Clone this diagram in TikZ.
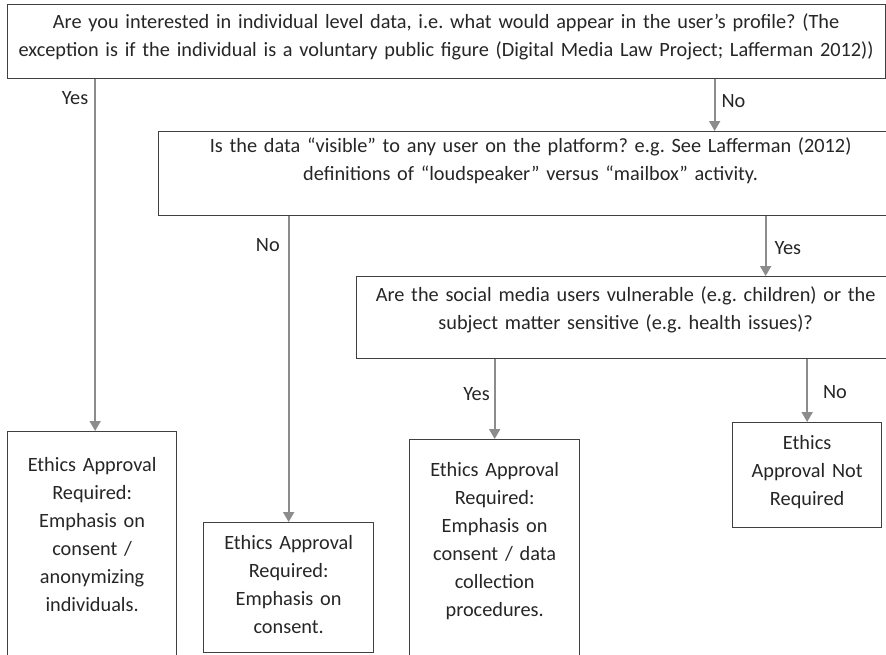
\documentclass[tikz,border=0pt]{standalone}
\usepackage{fontspec}
\setmainfont{Carlito}
\usetikzlibrary{arrows.meta, positioning}
\frenchspacing

\begin{document}
\begin{tikzpicture}[
    x=1pt, y=-1pt,
    font=\fontsize{20.3}{28}\selectfont,
    %% ── Box styles ──────────────────────────────────────────────────────
    qbox/.style={
        draw=black!75, line width=1.3pt,
        rectangle, anchor=north west,
        inner sep=0pt,
        align=center,
        text=black!85,
    },
    %% ── Arrow styles ────────────────────────────────────────────────────
    flow/.style={
        -{Triangle[length=10pt, width=11pt]},
        draw=black!45, line width=1.8pt,
    },
    lbl/.style={inner sep=0pt, text=black!85},
]

\useasboundingbox (0,0) rectangle (886,654);
\clip (0,0) rectangle (886,654);

%%─────────────────────────────────────────────────────────────────────────
%% Questions
%%─────────────────────────────────────────────────────────────────────────
\node[qbox, text width=878pt, text height=24pt, text depth=50pt] (Individual) at (6.5,4) {
    Are you interested in individual level data, i.e. what would appear in the user’s profile? (The\\
    exception is if the individual is a voluntary public figure (Digital Media Law Project; Lafferman 2012))
};

\node[qbox, text width=744pt, text height=21pt, text depth=63pt] (Visible) at (158,131) {
    Is the data “visible” to any user on the platform? e.g. See Lafferman (2012)\\
    definitions of “loudspeaker” versus “mailbox” activity.
};

\node[qbox, text width=538pt, text height=25pt, text depth=57pt] (Vulnerable) at (356,276) {
    Are the social media users vulnerable (e.g. children) or the\\
    subject matter sensitive (e.g. health issues)?
};

%%─────────────────────────────────────────────────────────────────────────
%% Outcomes
%%─────────────────────────────────────────────────────────────────────────
\node[qbox, text width=169pt, text height=40pt, text depth=240pt] (Anonymize) at (7,431) {
    Ethics Approval\\ Required:\\ Emphasis on\\ consent /\\ anonymizing\\ individuals.
};

\node[qbox, text width=170pt, text height=27pt, text depth=103pt] (Consent) at (203,522) {
    Ethics Approval\\ Required:\\ Emphasis on\\ consent.
};

\node[qbox, text width=170pt, text height=37pt, text depth=230pt] (Procedures) at (409,439) {
    Ethics Approval\\ Required:\\ Emphasis on\\ consent / data\\ collection\\ procedures.
};

\node[qbox, text width=149pt, text height=27pt, text depth=78pt] (NotRequired) at (732,422) {
    Ethics\\ Approval Not\\ Required
};

%%─────────────────────────────────────────────────────────────────────────
%% Flow
%%─────────────────────────────────────────────────────────────────────────
\draw[flow]
    ([xshift=3pt]Individual.south -| Anonymize.north) -- ([xshift=3pt]Anonymize.north)
    node[lbl, pos=0.054, left=6pt] {Yes};

\draw[flow]
    ([xshift=184pt]Visible.north |- Individual.south) -- ([xshift=184pt]Visible.north)
    node[lbl, pos=0.415, right=6pt] {No};

\draw[flow]
    (Visible.south -| Consent.north) -- (Consent.north)
    node[lbl, pos=0.094, left=8pt] {No};

\draw[flow]
    ([xshift=140pt]Vulnerable.north |- Visible.south) -- ([xshift=140pt]Vulnerable.north)
    node[lbl, pos=0.54, right=8pt] {Yes};

\draw[flow]
    (Vulnerable.south -| Procedures.north) -- (Procedures.north)
    node[lbl, pos=0.43, left=4pt] {Yes};

\draw[flow]
    (Vulnerable.south -| NotRequired.north) -- (NotRequired.north)
    node[lbl, pos=0.52, right=15pt] {No};

\end{tikzpicture}
\end{document}
